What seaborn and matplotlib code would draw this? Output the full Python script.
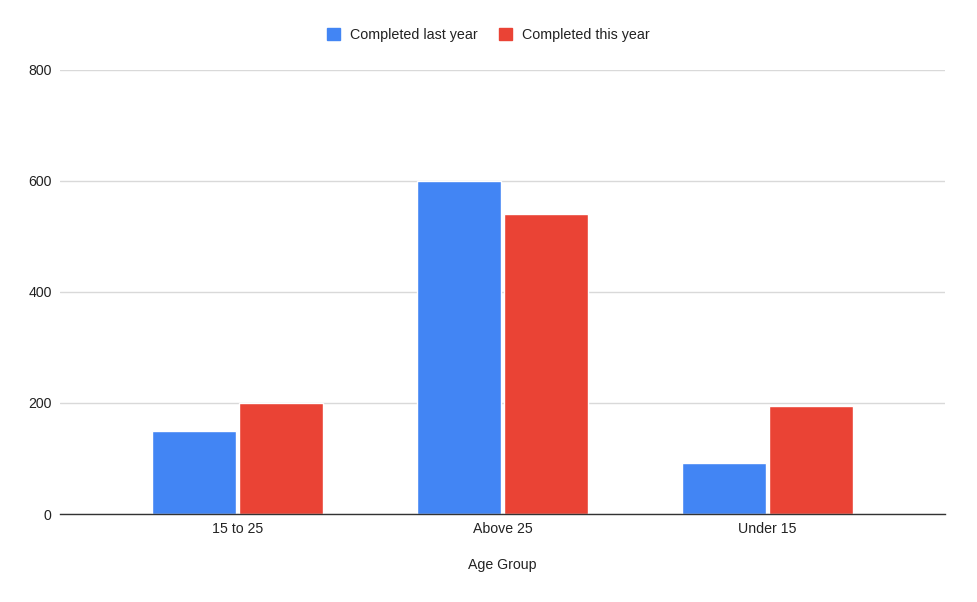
import matplotlib
matplotlib.use("Agg")
import matplotlib.pyplot as plt
import seaborn as sns
import pandas as pd

# data
age_groups = ["15 to 25", "Above 25", "Under 15"]
last_year = [150, 600, 92]
this_year = [200, 540, 195]
series_names = ["Completed last year", "Completed this year"]
colors = ["#4285F4", "#EA4335"]

df = pd.DataFrame({
    "Age Group": age_groups * 2,
    "value": last_year + this_year,
    "series": [series_names[0]] * 3 + [series_names[1]] * 3,
})

sns.set_theme(style="white")
plt.rcParams["font.family"] = ["Liberation Sans", "DejaVu Sans"]

fig = plt.figure(figsize=(9.77, 6.02), dpi=100)
ax = fig.add_axes([60 / 977, 88 / 602, 885 / 977, 444 / 602])

sns.barplot(data=df, x="Age Group", y="value", hue="series",
            palette=colors, width=0.655, gap=0.035, saturation=1,
            ax=ax, legend=False)

ax.set_ylim(0, 800)
ax.set_xlim(-0.67, 2.67)
ax.set_yticks([0, 200, 400, 600, 800])
ax.yaxis.grid(True, color="#d9d9d9", linewidth=1)
ax.set_axisbelow(True)
for s in ["top", "right", "left"]:
    ax.spines[s].set_visible(False)
ax.spines["bottom"].set_color("#333333")
ax.spines["bottom"].set_linewidth(1)
ax.tick_params(axis="both", length=0, labelsize=10.2, colors="#222222")
ax.tick_params(axis="y", pad=6)
ax.tick_params(axis="x", pad=6)
ax.set_ylabel("")
ax.set_xlabel("Age Group", fontsize=10.2, color="#222222", labelpad=15.5)

handles = [plt.Rectangle((0, 0), 1, 1, color=c) for c in colors]
fig.legend(handles, series_names, loc="center", bbox_to_anchor=(0.5, 1 - 34.5 / 602),
           ncol=2, frameon=False, fontsize=10.3, handlelength=0.9, handleheight=0.9,
           handletextpad=0.7, columnspacing=1.5, labelcolor="#222222")

fig.savefig("out.png", dpi=100)
